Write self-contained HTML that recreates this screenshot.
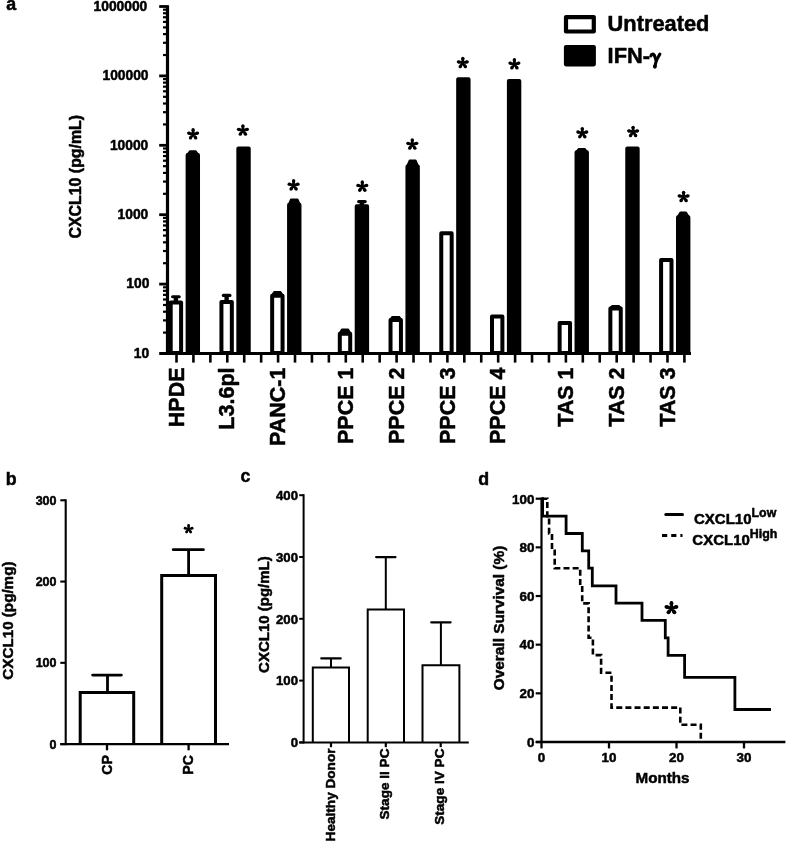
<!DOCTYPE html>
<html><head><meta charset="utf-8"><style>
html,body{margin:0;padding:0;background:#fff;}
svg{display:block;filter:grayscale(1) blur(0.35px);}
text{font-family:"Liberation Sans",sans-serif;font-weight:bold;stroke:#000;stroke-width:0.5px;stroke-linejoin:round;}
</style></head><body>
<svg width="787" height="842" viewBox="0 0 787 842">
<rect width="787" height="842" fill="#fff"/>
<g stroke="#000" fill="none">
<line x1="167.50" y1="5.20" x2="167.50" y2="355.00" stroke-width="3.2" stroke-linecap="butt"/>
<line x1="159.20" y1="353.50" x2="691.00" y2="353.50" stroke-width="3.2" stroke-linecap="butt"/>
<line x1="163.00" y1="332.61" x2="167.50" y2="332.61" stroke-width="2.2" stroke-linecap="butt"/>
<line x1="163.00" y1="320.39" x2="167.50" y2="320.39" stroke-width="2.2" stroke-linecap="butt"/>
<line x1="163.00" y1="311.72" x2="167.50" y2="311.72" stroke-width="2.2" stroke-linecap="butt"/>
<line x1="163.00" y1="304.99" x2="167.50" y2="304.99" stroke-width="2.2" stroke-linecap="butt"/>
<line x1="163.00" y1="299.50" x2="167.50" y2="299.50" stroke-width="2.2" stroke-linecap="butt"/>
<line x1="163.00" y1="294.85" x2="167.50" y2="294.85" stroke-width="2.2" stroke-linecap="butt"/>
<line x1="163.00" y1="290.83" x2="167.50" y2="290.83" stroke-width="2.2" stroke-linecap="butt"/>
<line x1="163.00" y1="287.28" x2="167.50" y2="287.28" stroke-width="2.2" stroke-linecap="butt"/>
<line x1="159.20" y1="284.10" x2="167.50" y2="284.10" stroke-width="2.8" stroke-linecap="butt"/>
<line x1="163.00" y1="263.21" x2="167.50" y2="263.21" stroke-width="2.2" stroke-linecap="butt"/>
<line x1="163.00" y1="250.99" x2="167.50" y2="250.99" stroke-width="2.2" stroke-linecap="butt"/>
<line x1="163.00" y1="242.32" x2="167.50" y2="242.32" stroke-width="2.2" stroke-linecap="butt"/>
<line x1="163.00" y1="235.59" x2="167.50" y2="235.59" stroke-width="2.2" stroke-linecap="butt"/>
<line x1="163.00" y1="230.10" x2="167.50" y2="230.10" stroke-width="2.2" stroke-linecap="butt"/>
<line x1="163.00" y1="225.45" x2="167.50" y2="225.45" stroke-width="2.2" stroke-linecap="butt"/>
<line x1="163.00" y1="221.43" x2="167.50" y2="221.43" stroke-width="2.2" stroke-linecap="butt"/>
<line x1="163.00" y1="217.88" x2="167.50" y2="217.88" stroke-width="2.2" stroke-linecap="butt"/>
<line x1="159.20" y1="214.70" x2="167.50" y2="214.70" stroke-width="2.8" stroke-linecap="butt"/>
<line x1="163.00" y1="193.81" x2="167.50" y2="193.81" stroke-width="2.2" stroke-linecap="butt"/>
<line x1="163.00" y1="181.59" x2="167.50" y2="181.59" stroke-width="2.2" stroke-linecap="butt"/>
<line x1="163.00" y1="172.92" x2="167.50" y2="172.92" stroke-width="2.2" stroke-linecap="butt"/>
<line x1="163.00" y1="166.19" x2="167.50" y2="166.19" stroke-width="2.2" stroke-linecap="butt"/>
<line x1="163.00" y1="160.70" x2="167.50" y2="160.70" stroke-width="2.2" stroke-linecap="butt"/>
<line x1="163.00" y1="156.05" x2="167.50" y2="156.05" stroke-width="2.2" stroke-linecap="butt"/>
<line x1="163.00" y1="152.03" x2="167.50" y2="152.03" stroke-width="2.2" stroke-linecap="butt"/>
<line x1="163.00" y1="148.48" x2="167.50" y2="148.48" stroke-width="2.2" stroke-linecap="butt"/>
<line x1="159.20" y1="145.30" x2="167.50" y2="145.30" stroke-width="2.8" stroke-linecap="butt"/>
<line x1="163.00" y1="124.41" x2="167.50" y2="124.41" stroke-width="2.2" stroke-linecap="butt"/>
<line x1="163.00" y1="112.19" x2="167.50" y2="112.19" stroke-width="2.2" stroke-linecap="butt"/>
<line x1="163.00" y1="103.52" x2="167.50" y2="103.52" stroke-width="2.2" stroke-linecap="butt"/>
<line x1="163.00" y1="96.79" x2="167.50" y2="96.79" stroke-width="2.2" stroke-linecap="butt"/>
<line x1="163.00" y1="91.30" x2="167.50" y2="91.30" stroke-width="2.2" stroke-linecap="butt"/>
<line x1="163.00" y1="86.65" x2="167.50" y2="86.65" stroke-width="2.2" stroke-linecap="butt"/>
<line x1="163.00" y1="82.63" x2="167.50" y2="82.63" stroke-width="2.2" stroke-linecap="butt"/>
<line x1="163.00" y1="79.08" x2="167.50" y2="79.08" stroke-width="2.2" stroke-linecap="butt"/>
<line x1="159.20" y1="75.90" x2="167.50" y2="75.90" stroke-width="2.8" stroke-linecap="butt"/>
<line x1="163.00" y1="55.01" x2="167.50" y2="55.01" stroke-width="2.2" stroke-linecap="butt"/>
<line x1="163.00" y1="42.79" x2="167.50" y2="42.79" stroke-width="2.2" stroke-linecap="butt"/>
<line x1="163.00" y1="34.12" x2="167.50" y2="34.12" stroke-width="2.2" stroke-linecap="butt"/>
<line x1="163.00" y1="27.39" x2="167.50" y2="27.39" stroke-width="2.2" stroke-linecap="butt"/>
<line x1="163.00" y1="21.90" x2="167.50" y2="21.90" stroke-width="2.2" stroke-linecap="butt"/>
<line x1="163.00" y1="17.25" x2="167.50" y2="17.25" stroke-width="2.2" stroke-linecap="butt"/>
<line x1="163.00" y1="13.23" x2="167.50" y2="13.23" stroke-width="2.2" stroke-linecap="butt"/>
<line x1="163.00" y1="9.68" x2="167.50" y2="9.68" stroke-width="2.2" stroke-linecap="butt"/>
<line x1="159.20" y1="6.50" x2="167.50" y2="6.50" stroke-width="2.8" stroke-linecap="butt"/>
<line x1="176.50" y1="353.50" x2="176.50" y2="362.60" stroke-width="2.6" stroke-linecap="butt"/>
<line x1="193.43" y1="353.50" x2="193.43" y2="362.60" stroke-width="2.6" stroke-linecap="butt"/>
<line x1="210.36" y1="353.50" x2="210.36" y2="362.60" stroke-width="2.6" stroke-linecap="butt"/>
<line x1="227.29" y1="353.50" x2="227.29" y2="362.60" stroke-width="2.6" stroke-linecap="butt"/>
<line x1="244.22" y1="353.50" x2="244.22" y2="362.60" stroke-width="2.6" stroke-linecap="butt"/>
<line x1="261.15" y1="353.50" x2="261.15" y2="362.60" stroke-width="2.6" stroke-linecap="butt"/>
<line x1="278.08" y1="353.50" x2="278.08" y2="362.60" stroke-width="2.6" stroke-linecap="butt"/>
<line x1="295.01" y1="353.50" x2="295.01" y2="362.60" stroke-width="2.6" stroke-linecap="butt"/>
<line x1="311.94" y1="353.50" x2="311.94" y2="362.60" stroke-width="2.6" stroke-linecap="butt"/>
<line x1="328.87" y1="353.50" x2="328.87" y2="362.60" stroke-width="2.6" stroke-linecap="butt"/>
<line x1="345.80" y1="353.50" x2="345.80" y2="362.60" stroke-width="2.6" stroke-linecap="butt"/>
<line x1="362.73" y1="353.50" x2="362.73" y2="362.60" stroke-width="2.6" stroke-linecap="butt"/>
<line x1="379.66" y1="353.50" x2="379.66" y2="362.60" stroke-width="2.6" stroke-linecap="butt"/>
<line x1="396.59" y1="353.50" x2="396.59" y2="362.60" stroke-width="2.6" stroke-linecap="butt"/>
<line x1="413.52" y1="353.50" x2="413.52" y2="362.60" stroke-width="2.6" stroke-linecap="butt"/>
<line x1="430.45" y1="353.50" x2="430.45" y2="362.60" stroke-width="2.6" stroke-linecap="butt"/>
<line x1="447.38" y1="353.50" x2="447.38" y2="362.60" stroke-width="2.6" stroke-linecap="butt"/>
<line x1="464.31" y1="353.50" x2="464.31" y2="362.60" stroke-width="2.6" stroke-linecap="butt"/>
<line x1="481.24" y1="353.50" x2="481.24" y2="362.60" stroke-width="2.6" stroke-linecap="butt"/>
<line x1="498.17" y1="353.50" x2="498.17" y2="362.60" stroke-width="2.6" stroke-linecap="butt"/>
<line x1="515.10" y1="353.50" x2="515.10" y2="362.60" stroke-width="2.6" stroke-linecap="butt"/>
<line x1="532.03" y1="353.50" x2="532.03" y2="362.60" stroke-width="2.6" stroke-linecap="butt"/>
<line x1="548.96" y1="353.50" x2="548.96" y2="362.60" stroke-width="2.6" stroke-linecap="butt"/>
<line x1="565.89" y1="353.50" x2="565.89" y2="362.60" stroke-width="2.6" stroke-linecap="butt"/>
<line x1="582.82" y1="353.50" x2="582.82" y2="362.60" stroke-width="2.6" stroke-linecap="butt"/>
<line x1="599.75" y1="353.50" x2="599.75" y2="362.60" stroke-width="2.6" stroke-linecap="butt"/>
<line x1="616.68" y1="353.50" x2="616.68" y2="362.60" stroke-width="2.6" stroke-linecap="butt"/>
<line x1="633.61" y1="353.50" x2="633.61" y2="362.60" stroke-width="2.6" stroke-linecap="butt"/>
<line x1="650.54" y1="353.50" x2="650.54" y2="362.60" stroke-width="2.6" stroke-linecap="butt"/>
<line x1="667.47" y1="353.50" x2="667.47" y2="362.60" stroke-width="2.6" stroke-linecap="butt"/>
<line x1="684.40" y1="353.50" x2="684.40" y2="362.60" stroke-width="2.6" stroke-linecap="butt"/>
</g>
<g font-family="Liberation Sans, sans-serif" font-weight="bold" fill="#000">
<text x="149.10" y="357.80" font-size="13.8" text-anchor="end">10</text>
<text x="149.40" y="288.40" font-size="13.8" text-anchor="end">100</text>
<text x="148.30" y="219.00" font-size="13.8" text-anchor="end">1000</text>
<text x="148.30" y="149.60" font-size="13.8" text-anchor="end">10000</text>
<text x="148.50" y="80.20" font-size="13.8" text-anchor="end">100000</text>
<text x="147.30" y="10.80" font-size="13.8" text-anchor="end">1000000</text>
</g>
<g stroke="#000" stroke-linejoin="round">
<line x1="175.90" y1="302.40" x2="175.90" y2="296.70" stroke-width="4.4" stroke-linecap="butt"/>
<line x1="172.60" y1="296.70" x2="179.20" y2="296.70" stroke-width="3.1" stroke-linecap="round"/>
<rect x="170.70" y="302.40" width="10.40" height="50.50" fill="#fff" stroke-width="4.0"/>
<path d="M189.81,151.20 L195.81,151.20 L198.21,154.50 L187.41,154.50 Z" fill="#000" stroke-width="1.8"/>
<rect x="187.61" y="155.00" width="10.40" height="197.90" fill="#000" stroke-width="4.0"/>
<line x1="226.63" y1="302.00" x2="226.63" y2="295.40" stroke-width="4.4" stroke-linecap="butt"/>
<line x1="223.33" y1="295.40" x2="229.93" y2="295.40" stroke-width="3.1" stroke-linecap="round"/>
<rect x="221.43" y="302.00" width="10.40" height="50.90" fill="#fff" stroke-width="4.0"/>
<rect x="238.34" y="148.60" width="10.40" height="204.30" fill="#000" stroke-width="4.0"/>
<path d="M274.16,291.90 L280.56,291.90 L282.76,295.20 L271.96,295.20 Z" fill="#000" stroke-width="1.8"/>
<rect x="272.16" y="295.70" width="10.40" height="57.20" fill="#fff" stroke-width="4.0"/>
<path d="M290.97,199.40 L297.57,199.40 L299.67,204.20 L288.87,204.20 Z" fill="#000" stroke-width="1.8"/>
<rect x="289.07" y="204.70" width="10.40" height="148.20" fill="#000" stroke-width="4.0"/>
<path d="M341.80,329.50 L348.20,329.50 L350.40,333.20 L339.60,333.20 Z" fill="#000" stroke-width="1.8"/>
<rect x="339.80" y="333.70" width="10.40" height="19.20" fill="#fff" stroke-width="4.0"/>
<line x1="361.91" y1="206.20" x2="361.91" y2="201.60" stroke-width="4.4" stroke-linecap="butt"/>
<line x1="358.61" y1="201.60" x2="365.21" y2="201.60" stroke-width="3.1" stroke-linecap="round"/>
<rect x="356.71" y="206.20" width="10.40" height="146.70" fill="#000" stroke-width="4.0"/>
<path d="M392.23,316.90 L399.23,316.90 L401.13,319.50 L390.33,319.50 Z" fill="#000" stroke-width="1.8"/>
<rect x="390.53" y="320.00" width="10.40" height="32.90" fill="#fff" stroke-width="4.0"/>
<path d="M409.64,160.30 L415.64,160.30 L418.04,165.90 L407.24,165.90 Z" fill="#000" stroke-width="1.8"/>
<rect x="407.44" y="166.40" width="10.40" height="186.50" fill="#000" stroke-width="4.0"/>
<rect x="441.26" y="233.20" width="10.40" height="119.70" fill="#fff" stroke-width="4.0"/>
<rect x="458.17" y="79.30" width="10.40" height="273.60" fill="#000" stroke-width="4.0"/>
<rect x="491.99" y="316.50" width="10.40" height="36.40" fill="#fff" stroke-width="4.0"/>
<rect x="508.90" y="81.00" width="10.40" height="271.90" fill="#000" stroke-width="4.0"/>
<rect x="559.63" y="323.10" width="10.40" height="29.80" fill="#fff" stroke-width="4.0"/>
<path d="M578.74,148.90 L584.74,148.90 L587.14,151.80 L576.34,151.80 Z" fill="#000" stroke-width="1.8"/>
<rect x="576.54" y="152.30" width="10.40" height="200.60" fill="#000" stroke-width="4.0"/>
<path d="M612.16,305.90 L618.96,305.90 L620.96,307.90 L610.16,307.90 Z" fill="#000" stroke-width="1.8"/>
<rect x="610.36" y="308.40" width="10.40" height="44.50" fill="#fff" stroke-width="4.0"/>
<rect x="627.27" y="148.60" width="10.40" height="204.30" fill="#000" stroke-width="4.0"/>
<rect x="661.09" y="260.10" width="10.40" height="92.80" fill="#fff" stroke-width="4.0"/>
<path d="M680.30,212.50 L686.10,212.50 L688.60,216.80 L677.80,216.80 Z" fill="#000" stroke-width="1.8"/>
<rect x="678.00" y="217.30" width="10.40" height="135.60" fill="#000" stroke-width="4.0"/>
</g>
<g fill="#000"><circle cx="193.10" cy="134.20" r="1.48"/><path d="M194.19,134.20 L194.75,129.65 L191.45,129.65 L192.01,134.20 Z M193.36,135.26 L197.91,134.70 L197.12,131.50 L192.84,133.14 Z M192.21,134.82 L194.36,138.87 L197.06,136.98 L193.99,133.58 Z M192.21,133.58 L189.14,136.98 L191.84,138.87 L193.99,134.82 Z M193.36,133.14 L189.08,131.50 L188.29,134.70 L192.84,135.26 Z"/><circle cx="193.10" cy="129.65" r="1.65"/><circle cx="197.51" cy="133.10" r="1.65"/><circle cx="195.71" cy="137.93" r="1.65"/><circle cx="190.49" cy="137.93" r="1.65"/><circle cx="188.69" cy="133.10" r="1.65"/></g>
<g fill="#000"><circle cx="242.90" cy="130.40" r="1.48"/><path d="M243.99,130.40 L244.55,125.85 L241.25,125.85 L241.81,130.40 Z M243.16,131.46 L247.71,130.90 L246.92,127.70 L242.64,129.34 Z M242.01,131.02 L244.16,135.07 L246.86,133.18 L243.79,129.78 Z M242.01,129.78 L238.94,133.18 L241.64,135.07 L243.79,131.02 Z M243.16,129.34 L238.88,127.70 L238.09,130.90 L242.64,131.46 Z"/><circle cx="242.90" cy="125.85" r="1.65"/><circle cx="247.31" cy="129.30" r="1.65"/><circle cx="245.51" cy="134.13" r="1.65"/><circle cx="240.29" cy="134.13" r="1.65"/><circle cx="238.49" cy="129.30" r="1.65"/></g>
<g fill="#000"><circle cx="293.60" cy="185.30" r="1.48"/><path d="M294.69,185.30 L295.25,180.75 L291.95,180.75 L292.51,185.30 Z M293.86,186.36 L298.41,185.80 L297.62,182.60 L293.34,184.24 Z M292.71,185.92 L294.86,189.97 L297.56,188.08 L294.49,184.68 Z M292.71,184.68 L289.64,188.08 L292.34,189.97 L294.49,185.92 Z M293.86,184.24 L289.58,182.60 L288.79,185.80 L293.34,186.36 Z"/><circle cx="293.60" cy="180.75" r="1.65"/><circle cx="298.01" cy="184.20" r="1.65"/><circle cx="296.21" cy="189.03" r="1.65"/><circle cx="290.99" cy="189.03" r="1.65"/><circle cx="289.19" cy="184.20" r="1.65"/></g>
<g fill="#000"><circle cx="362.30" cy="186.50" r="1.48"/><path d="M363.39,186.50 L363.95,181.95 L360.65,181.95 L361.21,186.50 Z M362.56,187.56 L367.11,187.00 L366.32,183.80 L362.04,185.44 Z M361.41,187.12 L363.56,191.17 L366.26,189.28 L363.19,185.88 Z M361.41,185.88 L358.34,189.28 L361.04,191.17 L363.19,187.12 Z M362.56,185.44 L358.28,183.80 L357.49,187.00 L362.04,187.56 Z"/><circle cx="362.30" cy="181.95" r="1.65"/><circle cx="366.71" cy="185.40" r="1.65"/><circle cx="364.91" cy="190.23" r="1.65"/><circle cx="359.69" cy="190.23" r="1.65"/><circle cx="357.89" cy="185.40" r="1.65"/></g>
<g fill="#000"><circle cx="412.30" cy="144.40" r="1.48"/><path d="M413.39,144.40 L413.95,139.85 L410.65,139.85 L411.21,144.40 Z M412.56,145.46 L417.11,144.90 L416.32,141.70 L412.04,143.34 Z M411.41,145.02 L413.56,149.07 L416.26,147.18 L413.19,143.78 Z M411.41,143.78 L408.34,147.18 L411.04,149.07 L413.19,145.02 Z M412.56,143.34 L408.28,141.70 L407.49,144.90 L412.04,145.46 Z"/><circle cx="412.30" cy="139.85" r="1.65"/><circle cx="416.71" cy="143.30" r="1.65"/><circle cx="414.91" cy="148.13" r="1.65"/><circle cx="409.69" cy="148.13" r="1.65"/><circle cx="407.89" cy="143.30" r="1.65"/></g>
<g fill="#000"><circle cx="462.80" cy="62.90" r="1.48"/><path d="M463.89,62.90 L464.45,58.35 L461.15,58.35 L461.71,62.90 Z M463.06,63.96 L467.61,63.40 L466.82,60.20 L462.54,61.84 Z M461.91,63.52 L464.06,67.57 L466.76,65.68 L463.69,62.28 Z M461.91,62.28 L458.84,65.68 L461.54,67.57 L463.69,63.52 Z M463.06,61.84 L458.78,60.20 L457.99,63.40 L462.54,63.96 Z"/><circle cx="462.80" cy="58.35" r="1.65"/><circle cx="467.21" cy="61.80" r="1.65"/><circle cx="465.41" cy="66.63" r="1.65"/><circle cx="460.19" cy="66.63" r="1.65"/><circle cx="458.39" cy="61.80" r="1.65"/></g>
<g fill="#000"><circle cx="514.40" cy="64.20" r="1.48"/><path d="M515.49,64.20 L516.05,59.65 L512.75,59.65 L513.31,64.20 Z M514.66,65.26 L519.21,64.70 L518.42,61.50 L514.14,63.14 Z M513.51,64.82 L515.66,68.87 L518.36,66.98 L515.29,63.58 Z M513.51,63.58 L510.44,66.98 L513.14,68.87 L515.29,64.82 Z M514.66,63.14 L510.38,61.50 L509.59,64.70 L514.14,65.26 Z"/><circle cx="514.40" cy="59.65" r="1.65"/><circle cx="518.81" cy="63.10" r="1.65"/><circle cx="517.01" cy="67.93" r="1.65"/><circle cx="511.79" cy="67.93" r="1.65"/><circle cx="509.99" cy="63.10" r="1.65"/></g>
<g fill="#000"><circle cx="582.30" cy="133.10" r="1.48"/><path d="M583.39,133.10 L583.95,128.55 L580.65,128.55 L581.21,133.10 Z M582.56,134.16 L587.11,133.60 L586.32,130.40 L582.04,132.04 Z M581.41,133.72 L583.56,137.77 L586.26,135.88 L583.19,132.48 Z M581.41,132.48 L578.34,135.88 L581.04,137.77 L583.19,133.72 Z M582.56,132.04 L578.28,130.40 L577.49,133.60 L582.04,134.16 Z"/><circle cx="582.30" cy="128.55" r="1.65"/><circle cx="586.71" cy="132.00" r="1.65"/><circle cx="584.91" cy="136.83" r="1.65"/><circle cx="579.69" cy="136.83" r="1.65"/><circle cx="577.89" cy="132.00" r="1.65"/></g>
<g fill="#000"><circle cx="633.10" cy="131.90" r="1.48"/><path d="M634.19,131.90 L634.75,127.35 L631.45,127.35 L632.01,131.90 Z M633.36,132.96 L637.91,132.40 L637.12,129.20 L632.84,130.84 Z M632.21,132.52 L634.36,136.57 L637.06,134.68 L633.99,131.28 Z M632.21,131.28 L629.14,134.68 L631.84,136.57 L633.99,132.52 Z M633.36,130.84 L629.08,129.20 L628.29,132.40 L632.84,132.96 Z"/><circle cx="633.10" cy="127.35" r="1.65"/><circle cx="637.51" cy="130.80" r="1.65"/><circle cx="635.71" cy="135.63" r="1.65"/><circle cx="630.49" cy="135.63" r="1.65"/><circle cx="628.69" cy="130.80" r="1.65"/></g>
<g fill="#000"><circle cx="683.60" cy="196.90" r="1.48"/><path d="M684.69,196.90 L685.25,192.35 L681.95,192.35 L682.51,196.90 Z M683.86,197.96 L688.41,197.40 L687.62,194.20 L683.34,195.84 Z M682.71,197.52 L684.86,201.57 L687.56,199.68 L684.49,196.28 Z M682.71,196.28 L679.64,199.68 L682.34,201.57 L684.49,197.52 Z M683.86,195.84 L679.58,194.20 L678.79,197.40 L683.34,197.96 Z"/><circle cx="683.60" cy="192.35" r="1.65"/><circle cx="688.01" cy="195.80" r="1.65"/><circle cx="686.21" cy="200.63" r="1.65"/><circle cx="680.99" cy="200.63" r="1.65"/><circle cx="679.19" cy="195.80" r="1.65"/></g>
<g font-family="Liberation Sans, sans-serif" font-weight="bold" fill="#000">
<text transform="translate(183.70,367.50) rotate(-90)" font-size="21.5" text-anchor="end">HPDE</text>
<text transform="translate(234.49,367.50) rotate(-90)" font-size="21.5" text-anchor="end">L3.6pl</text>
<text transform="translate(285.28,367.50) rotate(-90)" font-size="21.5" text-anchor="end">PANC-1</text>
<text transform="translate(353.00,367.50) rotate(-90)" font-size="21.5" text-anchor="end">PPCE 1</text>
<text transform="translate(403.79,367.50) rotate(-90)" font-size="21.5" text-anchor="end">PPCE 2</text>
<text transform="translate(454.58,367.50) rotate(-90)" font-size="21.5" text-anchor="end">PPCE 3</text>
<text transform="translate(505.37,367.50) rotate(-90)" font-size="21.5" text-anchor="end">PPCE 4</text>
<text transform="translate(573.09,367.50) rotate(-90)" font-size="21.5" text-anchor="end">TAS 1</text>
<text transform="translate(623.88,367.50) rotate(-90)" font-size="21.5" text-anchor="end">TAS 2</text>
<text transform="translate(674.67,367.50) rotate(-90)" font-size="21.5" text-anchor="end">TAS 3</text>
</g>
<g font-family="Liberation Sans, sans-serif" font-weight="bold" fill="#000">
<text transform="translate(81.30,176.70) rotate(-90)" font-size="15.9" text-anchor="middle">CXCL10 (pg/mL)</text>
<text x="6.30" y="10.30" font-size="17.8" text-anchor="start">a</text>
</g>
<g stroke="#000" stroke-linejoin="round" stroke-width="4.2">
<rect x="566.0" y="17.1" width="27.8" height="14.4" fill="#fff"/>
<rect x="566.0" y="47.1" width="27.8" height="17.2" fill="#000"/>
</g>
<g font-family="Liberation Sans, sans-serif" font-weight="bold" fill="#000">
<text x="607.60" y="31.00" font-size="21.8" text-anchor="start">Untreated</text>
<text x="607.60" y="63.20" font-size="21.8" text-anchor="start">IFN-</text>
<path d="M650.9,56.0 C651.0,54.0 653.4,53.4 654.3,55.2 L656.3,60.6" fill="none" stroke="#000" stroke-width="3.1" stroke-linecap="round"/>
<path d="M659.9,54.0 L656.3,60.6 L654.8,66.6" fill="none" stroke="#000" stroke-width="3.1" stroke-linecap="round" stroke-linejoin="round"/>
<ellipse cx="654.9" cy="66.6" rx="1.9" ry="2.1" fill="#000"/>
</g>
<g stroke="#000" fill="none">
<line x1="65.70" y1="499.29" x2="65.70" y2="745.10" stroke-width="2.1" stroke-linecap="butt"/>
<line x1="60.30" y1="744.10" x2="229.00" y2="744.10" stroke-width="2.1" stroke-linecap="butt"/>
<line x1="60.30" y1="744.10" x2="65.70" y2="744.10" stroke-width="2.1" stroke-linecap="butt"/>
<line x1="60.30" y1="662.83" x2="65.70" y2="662.83" stroke-width="2.1" stroke-linecap="butt"/>
<line x1="60.30" y1="581.56" x2="65.70" y2="581.56" stroke-width="2.1" stroke-linecap="butt"/>
<line x1="60.30" y1="500.29" x2="65.70" y2="500.29" stroke-width="2.1" stroke-linecap="butt"/>
<line x1="107.00" y1="744.10" x2="107.00" y2="750.30" stroke-width="2.3" stroke-linecap="butt"/>
<line x1="188.60" y1="744.10" x2="188.60" y2="750.30" stroke-width="2.3" stroke-linecap="butt"/>
<g stroke-width="3" stroke-linejoin="miter">
<path d="M80.2,744.1 V692.6 H133.7 V744.1"/>
<path d="M161.7,744.1 V575.5 H215.5 V744.1"/>
</g>
<line x1="107.50" y1="692.60" x2="107.50" y2="675.10" stroke-width="2.8" stroke-linecap="butt"/>
<line x1="92.60" y1="675.10" x2="121.40" y2="675.10" stroke-width="2.8" stroke-linecap="round"/>
<line x1="188.60" y1="575.50" x2="188.60" y2="549.70" stroke-width="2.8" stroke-linecap="butt"/>
<line x1="173.20" y1="549.70" x2="203.40" y2="549.70" stroke-width="2.8" stroke-linecap="round"/>
</g>
<g font-family="Liberation Sans, sans-serif" font-weight="bold" fill="#000">
<text x="56.50" y="748.70" font-size="12.5" text-anchor="end">0</text>
<text x="56.50" y="667.43" font-size="12.5" text-anchor="end">100</text>
<text x="56.50" y="586.16" font-size="12.5" text-anchor="end">200</text>
<text x="56.50" y="504.89" font-size="12.5" text-anchor="end">300</text>
<g fill="#000"><circle cx="188.60" cy="529.10" r="1.22"/><path d="M189.49,529.10 L189.95,525.45 L187.25,525.45 L187.71,529.10 Z M188.82,529.96 L192.47,529.53 L191.81,526.91 L188.38,528.24 Z M187.87,529.61 L189.59,532.86 L191.80,531.32 L189.33,528.59 Z M187.87,528.59 L185.40,531.32 L187.61,532.86 L189.33,529.61 Z M188.82,528.24 L185.39,526.91 L184.73,529.53 L188.38,529.96 Z"/><circle cx="188.60" cy="525.45" r="1.35"/><circle cx="192.14" cy="528.22" r="1.35"/><circle cx="190.69" cy="532.09" r="1.35"/><circle cx="186.51" cy="532.09" r="1.35"/><circle cx="185.06" cy="528.22" r="1.35"/></g>
<text transform="translate(112.00,755.00) rotate(-90)" font-size="14.2" text-anchor="end">CP</text>
<text transform="translate(193.40,755.00) rotate(-90)" font-size="14.2" text-anchor="end">PC</text>
<text transform="translate(13.00,620.60) rotate(-90)" font-size="15.2" text-anchor="middle">CXCL10 (pg/mg)</text>
<text x="5.80" y="484.50" font-size="17.8" text-anchor="start">b</text>
</g>
<g stroke="#000" fill="none">
<line x1="303.60" y1="494.20" x2="303.60" y2="743.40" stroke-width="2.0" stroke-linecap="butt"/>
<line x1="299.20" y1="742.40" x2="468.80" y2="742.40" stroke-width="2.0" stroke-linecap="butt"/>
<line x1="299.20" y1="742.40" x2="303.60" y2="742.40" stroke-width="2.0" stroke-linecap="butt"/>
<line x1="299.20" y1="680.60" x2="303.60" y2="680.60" stroke-width="2.0" stroke-linecap="butt"/>
<line x1="299.20" y1="618.80" x2="303.60" y2="618.80" stroke-width="2.0" stroke-linecap="butt"/>
<line x1="299.20" y1="557.00" x2="303.60" y2="557.00" stroke-width="2.0" stroke-linecap="butt"/>
<line x1="299.20" y1="495.20" x2="303.60" y2="495.20" stroke-width="2.0" stroke-linecap="butt"/>
<line x1="331.00" y1="742.40" x2="331.00" y2="747.20" stroke-width="2.2" stroke-linecap="butt"/>
<line x1="385.80" y1="742.40" x2="385.80" y2="747.20" stroke-width="2.2" stroke-linecap="butt"/>
<line x1="440.70" y1="742.40" x2="440.70" y2="747.20" stroke-width="2.2" stroke-linecap="butt"/>
<g stroke-width="2">
<path d="M312.8,742.4 V667.6 H349.0 V742.4"/>
<path d="M367.7,742.4 V609.4 H404.0 V742.4"/>
<path d="M422.5,742.4 V665.3 H459.4 V742.4"/>
</g>
<line x1="331.00" y1="667.60" x2="331.00" y2="658.40" stroke-width="2.0" stroke-linecap="butt"/>
<line x1="321.30" y1="658.40" x2="340.70" y2="658.40" stroke-width="2.2" stroke-linecap="round"/>
<line x1="385.80" y1="609.40" x2="385.80" y2="557.10" stroke-width="2.0" stroke-linecap="butt"/>
<line x1="376.10" y1="557.10" x2="395.50" y2="557.10" stroke-width="2.2" stroke-linecap="round"/>
<line x1="440.90" y1="665.30" x2="440.90" y2="622.30" stroke-width="2.0" stroke-linecap="butt"/>
<line x1="431.20" y1="622.30" x2="450.60" y2="622.30" stroke-width="2.2" stroke-linecap="round"/>
</g>
<g font-family="Liberation Sans, sans-serif" font-weight="bold" fill="#000">
<text x="298.00" y="747.10" font-size="13.2" text-anchor="end">0</text>
<text x="298.00" y="685.30" font-size="13.2" text-anchor="end">100</text>
<text x="298.00" y="623.50" font-size="13.2" text-anchor="end">200</text>
<text x="298.00" y="561.70" font-size="13.2" text-anchor="end">300</text>
<text x="298.00" y="499.90" font-size="13.2" text-anchor="end">400</text>
<text transform="translate(334.50,748.50) rotate(-90)" font-size="13.6" text-anchor="end">Healthy Donor</text>
<text transform="translate(389.10,748.50) rotate(-90)" font-size="13.6" text-anchor="end">Stage II PC</text>
<text transform="translate(443.90,748.50) rotate(-90)" font-size="13.6" text-anchor="end">Stage IV PC</text>
<text transform="translate(268.60,614.60) rotate(-90)" font-size="15.0" text-anchor="middle">CXCL10 (pg/mL)</text>
<text x="240.40" y="482.00" font-size="17.8" text-anchor="start">c</text>
</g>
<g stroke="#000" fill="none">
<line x1="541.50" y1="497.70" x2="541.50" y2="743.00" stroke-width="2.2" stroke-linecap="butt"/>
<line x1="535.70" y1="742.00" x2="785.40" y2="742.00" stroke-width="2.4" stroke-linecap="butt"/>
<line x1="535.70" y1="742.00" x2="541.50" y2="742.00" stroke-width="2.2" stroke-linecap="butt"/>
<line x1="535.70" y1="693.34" x2="541.50" y2="693.34" stroke-width="2.2" stroke-linecap="butt"/>
<line x1="535.70" y1="644.68" x2="541.50" y2="644.68" stroke-width="2.2" stroke-linecap="butt"/>
<line x1="535.70" y1="596.02" x2="541.50" y2="596.02" stroke-width="2.2" stroke-linecap="butt"/>
<line x1="535.70" y1="547.36" x2="541.50" y2="547.36" stroke-width="2.2" stroke-linecap="butt"/>
<line x1="535.70" y1="498.70" x2="541.50" y2="498.70" stroke-width="2.2" stroke-linecap="butt"/>
<line x1="541.50" y1="742.00" x2="541.50" y2="748.40" stroke-width="2.3" stroke-linecap="butt"/>
<line x1="609.00" y1="742.00" x2="609.00" y2="748.40" stroke-width="2.3" stroke-linecap="butt"/>
<line x1="676.50" y1="742.00" x2="676.50" y2="748.40" stroke-width="2.3" stroke-linecap="butt"/>
<line x1="744.00" y1="742.00" x2="744.00" y2="748.40" stroke-width="2.3" stroke-linecap="butt"/>
<path d="M541.5,498.7 H542.6 V516.1 H566.1 V533.5 H582.3 V550.8 H588.7 V568.2 H592.3 V585.9 H616.0 V603.2 H642.0 V620.4 H665.3 V637.9 H668.1 V655.3 H684.6 V677.4 H734.9 V709.5 H771.0" stroke-width="2.8" stroke-linejoin="miter"/>
<path d="M541.5,498.7 H547.3 V516.1 H549.1 V533.5 H552.0 V550.8 H554.7 V568.2 H580.2 V585.6 H582.2 V603.4 H588.6 V637.7 H592.9 V655.1 H601.1 V672.7 H611.5 V707.6 H680.3 V724.8 H700.8 V742.0" stroke-width="2.6" stroke-dasharray="6 3.15" stroke-linejoin="miter"/>
<line x1="665.80" y1="514.50" x2="682.50" y2="514.50" stroke-width="3.0" stroke-linecap="round"/>
<line x1="662.00" y1="535.50" x2="682.50" y2="535.50" stroke-width="2.8" stroke-linecap="butt" stroke-dasharray="5.2 4"/>
</g>
<g font-family="Liberation Sans, sans-serif" font-weight="bold" fill="#000">
<text x="534.40" y="746.80" font-size="13.4" text-anchor="end">0</text>
<text x="534.40" y="698.14" font-size="13.4" text-anchor="end">20</text>
<text x="534.40" y="649.48" font-size="13.4" text-anchor="end">40</text>
<text x="534.40" y="600.82" font-size="13.4" text-anchor="end">60</text>
<text x="534.40" y="552.16" font-size="13.4" text-anchor="end">80</text>
<text x="534.40" y="503.50" font-size="13.4" text-anchor="end">100</text>
<text x="541.50" y="761.80" font-size="13.4" text-anchor="middle">0</text>
<text x="609.00" y="761.80" font-size="13.4" text-anchor="middle">10</text>
<text x="676.50" y="761.80" font-size="13.4" text-anchor="middle">20</text>
<text x="744.00" y="761.80" font-size="13.4" text-anchor="middle">30</text>
<text x="662.50" y="783.00" font-size="15.2" text-anchor="middle">Months</text>
<text transform="translate(504.00,618.00) rotate(-90)" font-size="15.4" text-anchor="middle">Overall Survival (%)</text>
<text x="478.30" y="485.00" font-size="17.8" text-anchor="start">d</text>
<g fill="#000"><circle cx="671.45" cy="608.10" r="1.71"/><path d="M672.70,608.10 L673.35,602.90 L669.55,602.90 L670.20,608.10 Z M671.75,609.32 L676.96,608.69 L676.04,605.00 L671.15,606.88 Z M670.42,608.82 L672.88,613.45 L675.99,611.27 L672.48,607.38 Z M670.42,607.38 L666.91,611.27 L670.02,613.45 L672.48,608.82 Z M671.75,606.88 L666.86,605.00 L665.94,608.69 L671.15,609.32 Z"/><circle cx="671.45" cy="602.90" r="1.90"/><circle cx="676.50" cy="606.84" r="1.90"/><circle cx="674.43" cy="612.36" r="1.90"/><circle cx="668.47" cy="612.36" r="1.90"/><circle cx="666.40" cy="606.84" r="1.90"/></g>
<text x="694.00" y="524.40" font-size="15.0" text-anchor="start">CXCL10<tspan font-size="12.4" dy="-7.3">Low</tspan></text>
<text x="692.30" y="545.00" font-size="15.0" text-anchor="start">CXCL10<tspan font-size="12.4" dy="-7.3">High</tspan></text>
</g>
</svg>
</body></html>
